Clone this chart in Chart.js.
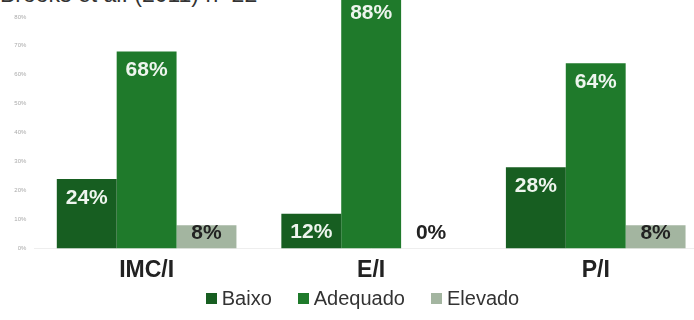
<!DOCTYPE html>
<html>
<head>
<meta charset="utf-8">
<script src="https://cdn.jsdelivr.net/npm/chart.js@4.4.1/dist/chart.umd.min.js"></script>
<style>
  html, body { margin: 0; padding: 0; background: #ffffff; overflow: hidden; width: 694px; height: 320px; }
  #title { position: absolute; left: 0px; top: -19px; font-family: "Liberation Sans", Arial, sans-serif; font-size: 23px; color: #333; white-space: nowrap; }
  #wrap { position: absolute; left: 0; top: -70px; width: 720px; height: 362px; }
  #legend { position: absolute; left: 0; top: 287px; width: 725px; display: flex; justify-content: center; align-items: center; font-family: "Liberation Sans", Arial, sans-serif; font-size: 20px; color: #333; }
  #legend .item { display: flex; align-items: center; margin: 0 13px; }
  #legend .box { width: 11px; height: 11px; margin-right: 5px; }
</style>
</head>
<body>
<div id="title">Brooks et al. (2011) n=22</div>
<div id="wrap"><canvas id="c" width="720" height="362"></canvas></div>
<div id="legend"></div>
<script>
const categories = ["IMC/I", "E/I", "P/I"];
const baixo = [24, 12, 28];
const adequado = [68, 88, 64];
const elevado = [8, 0, 8];
const seriesNames = ["Baixo", "Adequado", "Elevado"];
const yTicks = [0, 10, 20, 30, 40, 50, 60, 70, 80, 90, 100];

const colors = ["#175e21", "#1f7a2b", "#a3b5a0"];
const labelColors = ["#eef5ee", "#eef5ee", "#222222"];

const labelPlugin = {
  id: 'barLabels',
  afterDatasetsDraw(chart) {
    const ctx = chart.ctx;
    const base = chart.scales.y.getPixelForValue(0);
    ctx.save();
    ctx.font = 'bold 21px "Liberation Sans", Arial, sans-serif';
    ctx.textAlign = 'center';
    ctx.textBaseline = 'middle';
    chart.data.datasets.forEach((ds, di) => {
      const meta = chart.getDatasetMeta(di);
      meta.data.forEach((bar, i) => {
        const v = ds.data[i];
        const y = Math.min(bar.y + 19, base - 15);
        ctx.fillStyle = (v === 0) ? '#222222' : labelColors[di];
        ctx.fillText(v + '%', bar.x, y);
      });
    });
    ctx.restore();
  }
};

const chart = new Chart(document.getElementById('c'), {
  type: 'bar',
  data: {
    labels: categories,
    datasets: [
      { label: seriesNames[0], data: baixo, backgroundColor: colors[0] },
      { label: seriesNames[1], data: adequado, backgroundColor: colors[1] },
      { label: seriesNames[2], data: elevado, backgroundColor: colors[2] }
    ]
  },
  options: {
    responsive: false,
    animation: false,
    devicePixelRatio: 1,
    layout: { padding: { left: 3, right: 12, top: 29, bottom: 0 } },
    datasets: { bar: { categoryPercentage: 0.8, barPercentage: 1.0 } },
    scales: {
      x: {
        grid: { display: false, drawTicks: false },
        border: { display: true, color: '#eeeeee' },
        ticks: { color: '#222', font: { family: '"Liberation Sans", Arial, sans-serif', size: 23, weight: 'bold' }, padding: 8 }
      },
      y: {
        min: 0, max: 100,
        afterBuildTicks(axis) { axis.ticks = yTicks.map(v => ({ value: v })); },
        grid: { display: false, drawTicks: false },
        border: { display: false },
        ticks: { color: '#aaaaaa', font: { family: '"Liberation Sans", Arial, sans-serif', size: 6 }, padding: 8, callback: v => v + '%' }
      }
    },
    plugins: {
      legend: { display: false },
      tooltip: { enabled: false }
    }
  },
  plugins: [labelPlugin]
});

const legendEl = document.getElementById('legend');
chart.data.datasets.forEach(ds => {
  const item = document.createElement('div');
  item.className = 'item';
  const box = document.createElement('span');
  box.className = 'box';
  box.style.background = ds.backgroundColor;
  const txt = document.createElement('span');
  txt.textContent = ds.label;
  item.appendChild(box);
  item.appendChild(txt);
  legendEl.appendChild(item);
});
</script>
</body>
</html>
